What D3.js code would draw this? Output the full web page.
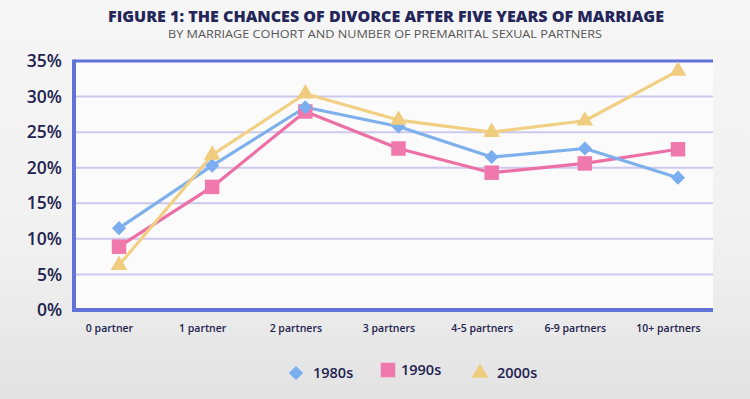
<!DOCTYPE html>
<html><head><meta charset="utf-8">
<script src="https://cdn.jsdelivr.net/npm/d3@7"></script>
<style>html,body{margin:0;padding:0;background:#efefef;}svg{display:block;}</style>
</head><body>
<script>
const categories = ["0 partner","1 partner","2 partners","3 partners","4-5 partners","6-9 partners","10+ partners"];
const s1980s = [11.5, 20.3, 28.5, 25.8, 21.5, 22.7, 18.6];
const s1990s = [8.9, 17.3, 27.9, 22.7, 19.3, 20.6, 22.6];
const s2000s = [6.3, 21.8, 30.4, 26.7, 25.0, 26.6, 33.6];
const seriesNames = ["1980s","1990s","2000s"];
const yTicks = [0,5,10,15,20,25,30,35];

const W=750,H=399;
const FONT="'Open Sans', Lato, sans-serif";
const svg=d3.select("body").append("svg").attr("width",W).attr("height",H);
const defs=svg.append("defs");
const g1=defs.append("linearGradient").attr("id","bg").attr("x1",0).attr("y1",0).attr("x2",0).attr("y2",1);
g1.append("stop").attr("offset","0%").attr("stop-color","#f6f6f6");
g1.append("stop").attr("offset","60%").attr("stop-color","#f1f1f1");
g1.append("stop").attr("offset","100%").attr("stop-color","#e3e3e3");
svg.append("rect").attr("width",W).attr("height",H).attr("fill","url(#bg)");

const x0=74,x1=713,yTop=61,yBot=310;
svg.append("rect").attr("x",x0).attr("y",yTop).attr("width",x1-x0).attr("height",yBot-yTop).attr("fill","#fbfbfb");

const x=d3.scalePoint().domain(categories).range([119,678]);
const y=d3.scaleLinear().domain([0,35]).range([yBot,yTop]);

// grid
svg.append("g").selectAll("line").data(yTicks.filter(t=>t>0&&t<35)).join("line")
  .attr("x1",x0).attr("x2",x1).attr("y1",d=>y(d)).attr("y2",d=>y(d))
  .attr("stroke","#cdc9ee").attr("stroke-width",2);

// y axis labels
const yAxis=d3.axisLeft(y).tickValues(yTicks).tickFormat(d=>d+"%").tickSize(0).tickPadding(12);
const ya=svg.append("g").attr("transform",`translate(${x0},0)`).call(yAxis);
ya.select(".domain").remove();
ya.selectAll("text").attr("font-family",FONT).attr("font-weight",600)
  .attr("font-size",17.5).attr("fill","#22234f");

// x axis labels
const xAxis=d3.axisBottom(x).tickSize(0).tickPadding(15);
const xa=svg.append("g").attr("transform",`translate(-10,${yBot})`).call(xAxis);
xa.select(".domain").remove();
xa.selectAll("text").attr("font-family",FONT).attr("font-weight",600)
  .attr("font-size",10.5).attr("fill","#22234f");

// borders
svg.append("line").attr("x1",x0).attr("x2",x1).attr("y1",yTop).attr("y2",yTop).attr("stroke","#6172d9").attr("stroke-width",3);
svg.append("line").attr("x1",x0-2).attr("x2",x1).attr("y1",yBot).attr("y2",yBot).attr("stroke","#6172d9").attr("stroke-width",4);
svg.append("line").attr("x1",x0).attr("x2",x0).attr("y1",yTop-1.5).attr("y2",yBot).attr("stroke","#6172d9").attr("stroke-width",4);

const colors=["#7eb0ec","#ec6fa5","#f2d083"];
const markerColors=["#7aaeee","#ef78ad","#f0cd7e"];
const symbols=[d3.symbolSquare,d3.symbolSquare,d3.symbolTriangle];
const rot=[45,0,0];
const sizes=[100,210,120];
const data=[s1980s,s1990s,s2000s];
const line=d3.line().x((d,i)=>x(categories[i])).y(d=>y(d));

[1,0,2].forEach(k=>{
  svg.append("path").datum(data[k]).attr("d",line).attr("fill","none")
    .attr("stroke",colors[k]).attr("stroke-width",3.2).attr("stroke-linejoin","round");
});
[1,0,2].forEach(k=>{
  const sym=d3.symbol().type(symbols[k]).size(sizes[k]);
  svg.append("g").selectAll("path").data(data[k]).join("path")
    .attr("transform",(d,i)=>`translate(${x(categories[i])},${y(d)}) rotate(${rot[k]})`)
    .attr("d",sym).attr("fill",markerColors[k]);
});

// title
svg.append("text").attr("x",386).attr("y",22).attr("text-anchor","middle")
  .attr("font-family",FONT).attr("font-weight",800).attr("font-size",16)
  .attr("textLength",556).attr("lengthAdjust","spacingAndGlyphs")
  .attr("fill","#24265a").text("FIGURE 1: THE CHANCES OF DIVORCE AFTER FIVE YEARS OF MARRIAGE");
svg.append("text").attr("x",385).attr("y",38).attr("text-anchor","middle")
  .attr("font-family",FONT).attr("font-weight",400).attr("font-size",11.5)
  .attr("textLength",434).attr("lengthAdjust","spacingAndGlyphs")
  .attr("fill","#555").text("BY MARRIAGE COHORT AND NUMBER OF PREMARITAL SEXUAL PARTNERS");

// legend
const legX=[296,388,480], legY=[373,370,373];
seriesNames.forEach((n,k)=>{
  const sym=d3.symbol().type(symbols[k]).size(k===1?210:(k===0?100:120));
  svg.append("path").attr("transform",`translate(${legX[k]},${legY[k]}) rotate(${rot[k]})`).attr("d",sym).attr("fill",markerColors[k]);
  svg.append("text").attr("x",legX[k]+15+(k===1?-2:2)).attr("y",legY[k]).attr("dy","0.35em")
    .attr("font-family",FONT).attr("font-weight",600).attr("font-size",14.5)
    .attr("fill","#22234f").text(n);
});
</script>
</body></html>
